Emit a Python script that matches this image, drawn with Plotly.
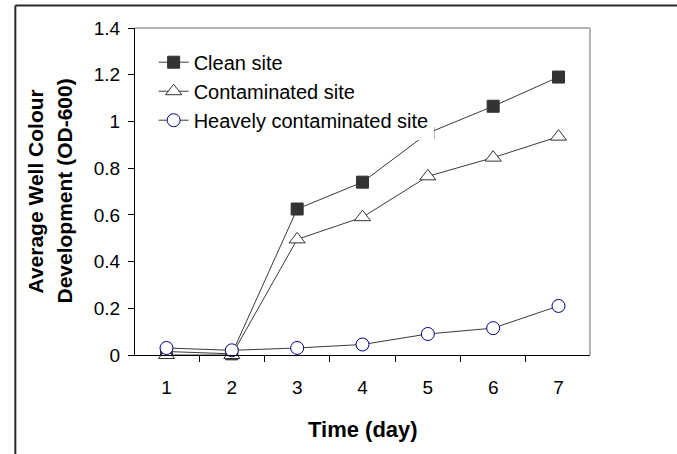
import plotly.graph_objects as go

# days and average well colour development (OD-600)
days = ["1", "2", "3", "4", "5", "6", "7"]
clean_site = [0.015, 0.005, 0.625, 0.74, 0.95, 1.065, 1.19]
contaminated_site = [0.0, 0.0, 0.495, 0.59, 0.765, 0.845, 0.935]
heavy_site = [0.03, 0.02, 0.03, 0.045, 0.09, 0.115, 0.21]
y_ticks = [0, 0.2, 0.4, 0.6, 0.8, 1, 1.2, 1.4]
y_ticktext = ["0", "0.2", "0.4", "0.6", "0.8", "1", "1.2", "1.4"]

FONT = "Liberation Sans, Arial, sans-serif"
LINE = "#3a3a3a"

fig = go.Figure()
fig.add_trace(go.Scatter(x=days, y=clean_site, name="Clean site", mode="lines+markers",
                         line=dict(color=LINE, width=1),
                         marker=dict(symbol="square", size=12, color="#333333",
                                     line=dict(color="#333333", width=1)),
                         cliponaxis=False))
fig.add_trace(go.Scatter(x=days, y=contaminated_site, name="Contaminated site", mode="lines+markers",
                         line=dict(color=LINE, width=1),
                         marker=dict(symbol="triangle-up", size=14, color="white",
                                     line=dict(color="#333333", width=1)),
                         cliponaxis=False))
fig.add_trace(go.Scatter(x=days, y=heavy_site, name="Heavely contaminated site", mode="lines+markers",
                         line=dict(color=LINE, width=1),
                         marker=dict(symbol="circle", size=13, color="white",
                                     line=dict(color="#000080", width=1)),
                         cliponaxis=False))

fig.update_xaxes(type="category", tickson="boundaries", ticks="outside", ticklen=6,
                 tickcolor="black", showline=True, linecolor="black", linewidth=1,
                 showgrid=False, zeroline=False, ticklabelstandoff=15,
                 tickfont=dict(family=FONT, size=19, color="black"))
fig.update_yaxes(range=[0, 1.4], tickvals=y_ticks, ticktext=y_ticktext, ticks="outside",
                 ticklen=6, tickcolor="black", showline=True, linecolor="black", linewidth=1,
                 showgrid=False, zeroline=False, ticklabelstandoff=4,
                 tickfont=dict(family=FONT, size=19, color="black"))

# grey frame on top and right of the plot area
fig.add_shape(type="line", xref="paper", yref="paper", x0=0, x1=1, y0=1, y1=1,
              line=dict(color="#b4b4b4", width=2))
fig.add_shape(type="line", xref="paper", yref="paper", x0=1, x1=1, y0=0, y1=1,
              line=dict(color="#b4b4b4", width=2))
# outer frame of the figure (left and top edges visible)
fig.add_shape(type="line", xref="paper", yref="paper", x0=-0.263, x1=-0.263, y0=-0.6, y1=1.069,
              line=dict(color="#2a2a2a", width=2))
fig.add_shape(type="line", xref="paper", yref="paper", x0=-0.263, x1=1.6, y0=1.069, y1=1.069,
              line=dict(color="#2a2a2a", width=2))

# axis titles
fig.add_annotation(text="<b>Average Well Colour</b>", xref="paper", yref="paper",
                   x=-0.2176, y=0.5, textangle=-90, showarrow=False,
                   xanchor="center", yanchor="middle",
                   font=dict(family=FONT, size=21, color="black"))
fig.add_annotation(text="<b>Development (OD-600)</b>", xref="paper", yref="paper",
                   x=-0.156, y=0.5, textangle=-90, showarrow=False,
                   xanchor="center", yanchor="middle",
                   font=dict(family=FONT, size=21, color="black"))
fig.add_annotation(text="<b>Time (day)</b>", xref="paper", yref="paper",
                   x=0.5, y=-0.229, showarrow=False, xanchor="center", yanchor="middle",
                   font=dict(family=FONT, size=22, color="black"))

fig.update_layout(width=677, height=454,
                  margin=dict(l=135, r=87, t=28, b=99),
                  paper_bgcolor="white", plot_bgcolor="white",
                  showlegend=True,
                  legend=dict(x=0.041, y=0.955, xanchor="left", yanchor="top",
                              bgcolor="white", borderwidth=0,
                              font=dict(family=FONT, size=20, color="black"),
                              tracegroupgap=0))

fig.write_html("out.html", config={"displayModeBar": False},
               post_script="document.body.style.margin='0px';")
